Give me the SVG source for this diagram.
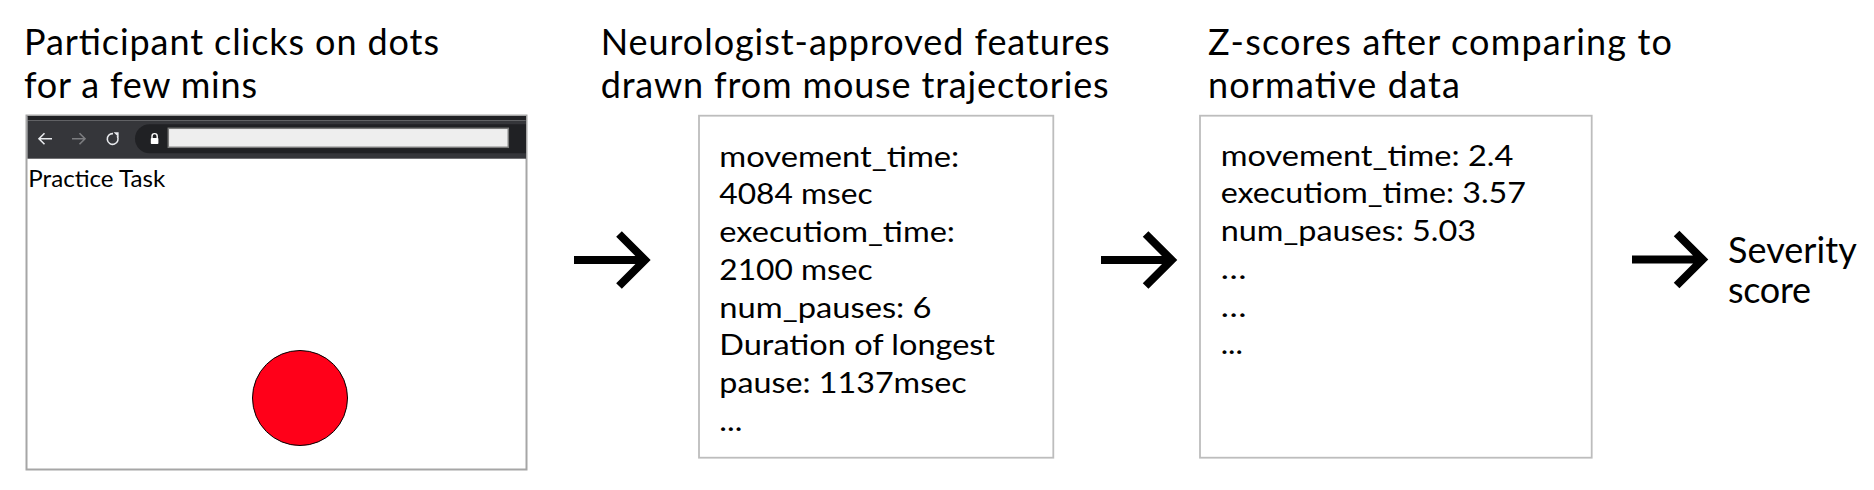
<svg xmlns="http://www.w3.org/2000/svg" width="1874" height="490" viewBox="0 0 1874 490">
<defs>
<style>
.t{font-family:Lato,"Liberation Sans",sans-serif;fill:#000}
.h{font-size:36px}
.b{font-size:28px}
.box{fill:#fff;stroke:#bdbdbd;stroke-width:1.8}
.arr{fill:none;stroke:#000;stroke-width:8;stroke-linejoin:miter;stroke-linecap:butt}
</style>
</defs>
<rect width="1874" height="490" fill="#fff"/>

<g id="step1">
<text class="t h" x="24" y="55" textLength="415" lengthAdjust="spacing">Participant clicks on dots</text>
<text class="t h" x="24" y="98.3" textLength="233" lengthAdjust="spacing">for a few mins</text>
<rect x="26.5" y="115.5" width="500" height="354" fill="#fff" stroke="#a6a6a6" stroke-width="2"/>
<rect x="27.5" y="116" width="498.5" height="4.5" fill="#202124"/>
<rect x="27.5" y="120.5" width="498.5" height="38.2" fill="#35363a"/>
<path d="M149.5 124.3 H526 V153.3 H149.5 A14.5 14.5 0 0 1 149.5 124.3 Z" fill="#202124"/>
<rect x="168.3" y="128.3" width="340" height="19" fill="#eeeeee" stroke="#7a7a7a" stroke-width="1.5"/>
<g fill="none" stroke="#e8eaed" stroke-width="1.6">
<path d="M52 138.7 H39 M44.5 133.2 L39 138.7 L44.5 144.2"/>
<path d="M117.3 136.2 A5.4 5.4 0 1 1 113 133.6"/>
</g>
<path d="M72 138.7 H85 M79.5 133.2 L85 138.7 L79.5 144.2" fill="none" stroke="#7c7d80" stroke-width="1.6"/>
<path d="M113.6 132.2 L118.6 132.2 L118.6 137.2 Z" fill="#e8eaed"/>
<g fill="#ffffff">
<rect x="150.8" y="138" width="7.6" height="6" rx="0.8"/>
<path d="M152 138.2 V136.2 A2.6 2.6 0 0 1 157.2 136.2 V138.2" fill="none" stroke="#ffffff" stroke-width="1.4"/>
</g>
<text x="28.3" y="186.7" font-family="Lato,'Open Sans',sans-serif" font-size="24" textLength="137" lengthAdjust="spacingAndGlyphs" fill="#000">Practice Task</text>
<circle cx="300" cy="398" r="47.5" fill="#ff0019" stroke="#000" stroke-width="1"/>
</g>

<g id="step2">
<text class="t h" x="600.7" y="55" textLength="509" lengthAdjust="spacing">Neurologist-approved features</text>
<text class="t h" x="600.7" y="98.3" textLength="508" lengthAdjust="spacing">drawn from mouse trajectories</text>
<rect class="box" x="699" y="115.7" width="354.3" height="342"/>
<text class="t b" x="719.3" y="166.7" textLength="240" lengthAdjust="spacingAndGlyphs">movement_time:</text>
<text class="t b" x="719.3" y="204.4" textLength="153.3" lengthAdjust="spacingAndGlyphs">4084 msec</text>
<text class="t b" x="719.3" y="242.1" textLength="235.7" lengthAdjust="spacingAndGlyphs">executiom_time:</text>
<text class="t b" x="719.3" y="279.8" textLength="153.3" lengthAdjust="spacingAndGlyphs">2100 msec</text>
<text class="t b" x="719.3" y="317.5" textLength="212.3" lengthAdjust="spacingAndGlyphs">num_pauses: 6</text>
<text class="t b" x="719.3" y="355.2" textLength="275.7" lengthAdjust="spacingAndGlyphs">Duration of longest</text>
<text class="t b" x="719.3" y="392.9" textLength="247.3" lengthAdjust="spacingAndGlyphs">pause: 1137msec</text>
<text class="t b" x="719.3" y="430.6" textLength="23" lengthAdjust="spacingAndGlyphs">...</text>
</g>

<g id="step3">
<text class="t h" x="1208" y="55" textLength="464" lengthAdjust="spacing">Z-scores after comparing to</text>
<text class="t h" x="1208" y="98.3" textLength="252" lengthAdjust="spacing">normative data</text>
<rect class="box" x="1200" y="115.7" width="391.7" height="342"/>
<text class="t b" x="1220.7" y="165.7" textLength="292.7" lengthAdjust="spacingAndGlyphs">movement_time: 2.4</text>
<text class="t b" x="1220.7" y="203.4" textLength="305.3" lengthAdjust="spacingAndGlyphs">executiom_time: 3.57</text>
<text class="t b" x="1220.7" y="241.1" textLength="255.3" lengthAdjust="spacingAndGlyphs">num_pauses: 5.03</text>
<text class="t b" x="1220.7" y="278.8" textLength="25.7" lengthAdjust="spacingAndGlyphs">…</text>
<text class="t b" x="1220.7" y="316.5" textLength="25.7" lengthAdjust="spacingAndGlyphs">…</text>
<text class="t b" x="1220.7" y="354.2" textLength="22.3" lengthAdjust="spacingAndGlyphs">...</text>
</g>

<g id="result">
<text class="t h" x="1728" y="262.5" textLength="128.7" lengthAdjust="spacing">Severity</text>
<text class="t h" x="1728" y="303" textLength="83" lengthAdjust="spacing">score</text>
</g>

<g id="connectors">
<path class="arr" d="M574 260 H645 M619 234 L645 260 L619 286"/>
<path class="arr" d="M1101 260 H1171.6 M1145.6 234 L1171.6 260 L1145.6 286"/>
<path class="arr" d="M1632 259.5 H1702.6 M1676.6 233.5 L1702.6 259.5 L1676.6 285.5"/>
</g>
</svg>
